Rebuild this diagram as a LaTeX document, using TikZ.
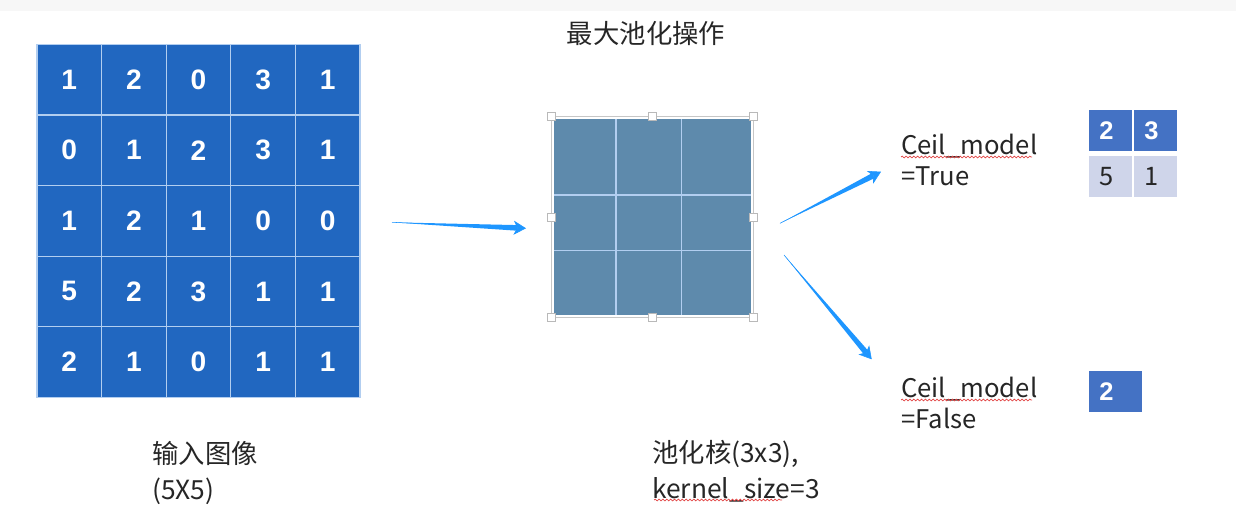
\documentclass[tikz,border=0pt]{standalone}
\usepackage{fontspec}
\setmainfont{Noto Sans CJK SC}
\newfontfamily\digitfont{Liberation Sans}
\usetikzlibrary{arrows.meta,calc,decorations.pathmorphing}
\definecolor{cellblue}{RGB}{33,103,192}
\definecolor{gridline}{RGB}{178,206,240}
\definecolor{kernelblue}{RGB}{94,138,172}
\definecolor{outblue}{RGB}{68,114,196}
\definecolor{outlight}{RGB}{207,213,234}
\definecolor{arrowblue}{RGB}{30,150,255}
\definecolor{squiggle}{RGB}{225,70,70}

\begin{document}
\begin{tikzpicture}[x=0.02cm, y=-0.02cm]
	\tikzstyle{cell}=[rectangle, fill=cellblue, draw=gridline, line width=0.7pt, minimum width=1.292cm, minimum height=1.411cm, text=white, font=\digitfont\bfseries\fontsize{16}{18}\selectfont]
	\tikzstyle{handle}=[rectangle, fill=white, draw=gray!55, line width=0.4pt, minimum size=0.16cm, inner sep=0]
	\tikzstyle{outcell}=[rectangle, minimum width=0.866cm, minimum height=0.82cm, inner sep=0, text width=0.456cm, align=left]
	\tikzstyle{outtop}=[outcell, fill=outblue, text=white, font=\digitfont\bfseries\fontsize{14.5}{17}\selectfont]
	\tikzstyle{outlow}=[outcell, fill=outlight, text=black!85, font=\fontsize{14.5}{17}\selectfont]
	\tikzstyle{lbl}=[anchor=north west, inner sep=0, align=left, text=black!85, font=\fontsize{14.6}{17.6}\selectfont]
	\tikzstyle{caption}=[anchor=north west, inner sep=0, align=left, text=black!85, font=\fontsize{15}{20.5}\selectfont]
	\tikzstyle{wavy}=[squiggle, line width=0.4pt, decorate, decoration={snake, amplitude=0.5pt, segment length=2.2pt}]

	\useasboundingbox (0,0) rectangle (1236,523);
	\fill[black!3] (0,0) rectangle (1236,11);

	% input image 5x5
	\foreach \row [count=\j from 0] in {{1,2,0,3,1},{0,1,2,3,1},{1,2,1,0,0},{5,2,3,1,1},{2,1,0,1,1}}
		\foreach \v [count=\i from 0] in \row
			\node[cell] (in-\j-\i) at ({37+64.6*(\i+0.5)}, {44.5+70.55*(\j+0.5)}) {\v};

	% pooling kernel 3x3
	\draw node at (652.4, 217.2) [rectangle, fill=kernelblue, minimum width=3.934cm, minimum height=3.914cm] (kernel) {};
	\draw[gridline, line width=0.8pt] (616, 119.3) -- (616, 315);
	\draw[gridline, line width=0.8pt] (681.7, 119.3) -- (681.7, 315);
	\draw[gridline, line width=0.8pt] (554, 195) -- (750.7, 195);
	\draw[gridline, line width=0.8pt] (554, 250.7) -- (750.7, 250.7);
	\draw node at (652.4, 216.9) [rectangle, draw=gray!45, line width=0.6pt, minimum width=4.026cm, minimum height=4.006cm] (sel) {};
	\foreach \a in {north west, north, north east, east, south east, south, south west, west}
		\node[handle] at (sel.\a) {};

	% outputs
	\draw node at (1110.7, 130.5) [outtop] (t11) {2};
	\draw node at (1155.7, 130.5) [outtop] (t12) {3};
	\draw node at (1110.7, 176.7) [outlow] (t21) {5};
	\draw node at (1155.7, 176.7) [outlow] (t22) {1};
	\draw node at (1115.7, 391.2) [outtop, minimum width=1.066cm, text width=0.656cm] (f11) {2};

	% texts
	\draw node at (646, 33.4) [text=black!85, font=\fontsize{15}{18}\selectfont] (title) {最大池化操作};
	\draw node at (901, 134) [lbl] (ceilT) {Ceil\_model\\=True};
	\draw node at (901, 377) [lbl] (ceilF) {Ceil\_model\\=False};
	\draw node at (152, 441) [caption] (incap) {输入图像\\(5X5)};
	\draw node at (652, 440) [caption] (kcap) {池化核(3x3),\\kernel\_size=3};
	\draw[wavy] (901, 157) -- (1032, 157);
	\draw[wavy] (901, 400) -- (1032, 400);
	\draw[wavy] (654, 500) -- (782, 500);

	% arrows
	\coordinate (a1s) at (392, 222.3);
	\coordinate (a1e) at (526, 228.3);
	\coordinate (a2s) at (780, 223.3);
	\coordinate (a2e) at (881, 171.7);
	\coordinate (a3s) at (784, 255);
	\coordinate (a3e) at (871.7, 359.3);
	\foreach \s/\e in {a1s/a1e, a2s/a2e, a3s/a3e} {
		\coordinate (hb) at ($(\e)!5pt!(\s)$);
		\fill[arrowblue] (\s) -- ($(hb)!1.6pt!90:(\s)$) -- ($(hb)!1.6pt!-90:(\s)$) -- cycle;
		\draw [arrowblue, line width=0.3pt, -{Stealth[length=7pt, width=8pt, inset=2pt]}] (\s) -- (\e);
	}
\end{tikzpicture}
\end{document}
